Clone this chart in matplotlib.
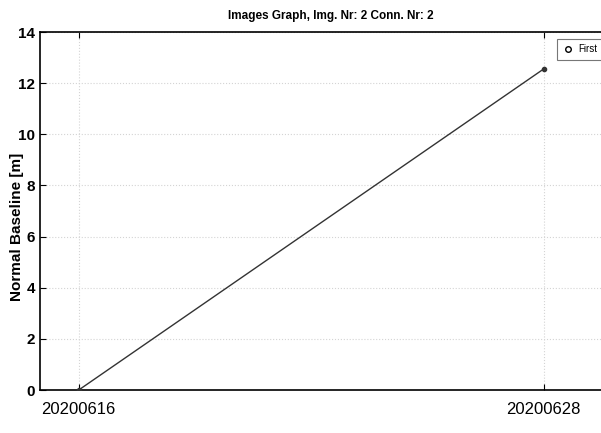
import datetime as dt
import matplotlib
matplotlib.use("Agg")
import matplotlib.pyplot as plt

# acquisition dates and normal baseline values
dates = [dt.datetime(2020, 6, 16), dt.datetime(2020, 6, 28)]
baseline = [0.0, 12.55]
date_labels = ["20200616", "20200628"]
y_ticks = [0, 2, 4, 6, 8, 10, 12, 14]

plt.rcParams['font.family'] = ['Liberation Sans', 'DejaVu Sans']

fig = plt.figure(figsize=(6.01, 4.33), dpi=100)
# axes runs past the right edge, like the cropped original
ax = fig.add_axes([40 / 601, 1 - 390 / 433, 581 / 601, 358 / 433])

ax.plot(dates, baseline, color="#333333", linewidth=1.0, marker="o",
        markersize=3, markerfacecolor="#333333", zorder=3)
# legend entry only
ax.plot([], [], linestyle="none", marker="o", markersize=4,
        markerfacecolor="white", markeredgecolor="black", label="First")

ax.set_xlim(dt.datetime(2020, 6, 15), dt.datetime(2020, 6, 30))
ax.set_ylim(0, 14)
ax.set_xticks(dates)
ax.set_xticklabels(date_labels, fontsize=12)
ax.set_yticks(y_ticks)
ax.set_yticklabels([str(v) for v in y_ticks], fontsize=11, fontweight="bold")
ax.tick_params(direction="in", length=4, width=0.8, top=True, right=False)
ax.tick_params(axis="x", pad=9)

ax.grid(True, color="#d4d4d4", linestyle=":", linewidth=0.8)
for s in ax.spines.values():
    s.set_linewidth(1.2)

ax.set_title("Images Graph, Img. Nr: 2 Conn. Nr: 2", fontsize=8.5, fontweight="bold", pad=9)
ax.set_ylabel("Normal Baseline [m]", fontsize=11, fontweight="bold")
ax.yaxis.set_label_coords(-16 / 581, 0.455)

leg = ax.legend(loc="upper left", bbox_to_anchor=(512 / 581, 0.995), fontsize=7,
                frameon=True, fancybox=False, edgecolor="#555555",
                handletextpad=0.6, borderpad=0.6, handlelength=1.0)
leg.get_frame().set_linewidth(0.8)

fig.savefig("out.png", dpi=100)
